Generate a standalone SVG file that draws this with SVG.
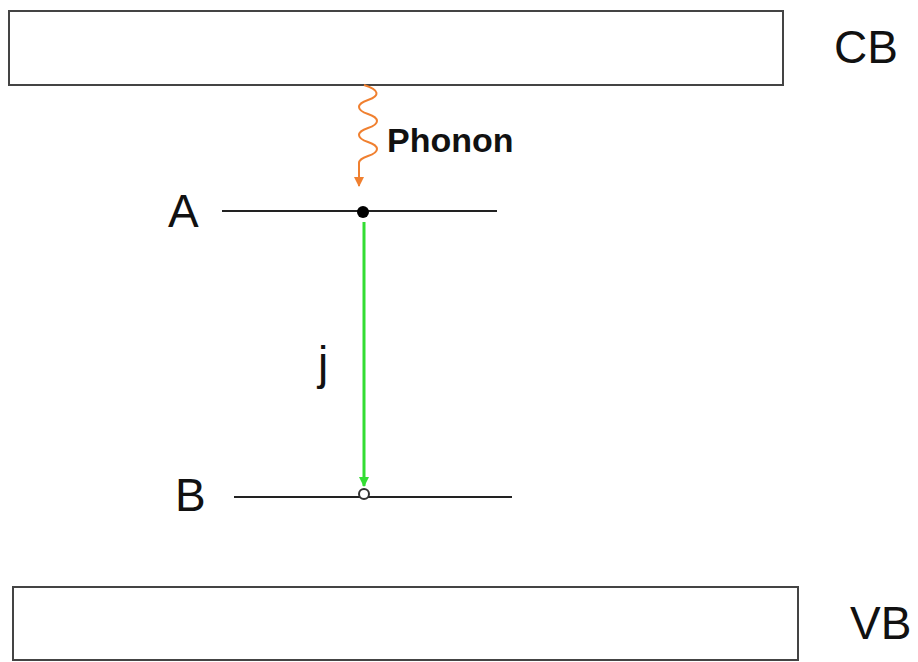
<svg xmlns="http://www.w3.org/2000/svg" width="918" height="662" viewBox="0 0 918 662">
<style>
.band{fill:#fff;stroke:#444;stroke-width:2}
.lvl{stroke:#222;stroke-width:2}
.lbl{font-family:"Liberation Sans",Arial,sans-serif;font-size:46px;fill:#111}
.small{font-family:"Liberation Sans",Arial,sans-serif;font-size:34px;font-weight:bold;fill:#111}
</style>
<defs>
<marker id="ao" viewBox="0 0 10 10" refX="9" refY="5" markerWidth="10" markerHeight="10" markerUnits="userSpaceOnUse" orient="auto"><path d="M0,0 L10,5 L0,10 z" fill="#f08030"/></marker>
<marker id="ag" viewBox="0 0 10 10" refX="9" refY="5" markerWidth="10" markerHeight="10" markerUnits="userSpaceOnUse" orient="auto"><path d="M0,0 L10,5 L0,10 z" fill="#33dd33"/></marker>
</defs>
<rect width="918" height="662" fill="#fff"/>
<g id="CB"><rect class="band" x="9" y="11" width="774" height="74"/><text class="lbl" x="834" y="63">CB</text></g>
<g id="VB"><rect class="band" x="13" y="587" width="785" height="73"/><text class="lbl" x="850" y="639">VB</text></g>
<g id="A"><line class="lvl" x1="222" y1="211" x2="497" y2="211"/><text class="lbl" x="168" y="227">A</text><circle cx="363" cy="212" r="6" fill="#000"/></g>
<g id="B"><line class="lvl" x1="234" y1="497" x2="512" y2="497"/><text class="lbl" x="175" y="511">B</text><circle cx="364" cy="494" r="5" fill="#fff" stroke="#333" stroke-width="2"/></g>
<g id="labels"><text class="small" x="387" y="152">Phonon</text><text class="lbl" x="318" y="379">j</text></g>
<g id="connectors">
<path d="M364,85 C380,90 380,96 368,100 C356,104 356,110 368,114 C380,118 380,124 368,128 C356,132 356,138 368,142 C380,146 380,152 368,156 C362,158 359,160 359,163 L359,186" fill="none" stroke="#f08030" stroke-width="2" marker-end="url(#ao)"/>
<line x1="364" y1="222" x2="364" y2="486" stroke="#33dd33" stroke-width="3" marker-end="url(#ag)"/>
</g>
</svg>
